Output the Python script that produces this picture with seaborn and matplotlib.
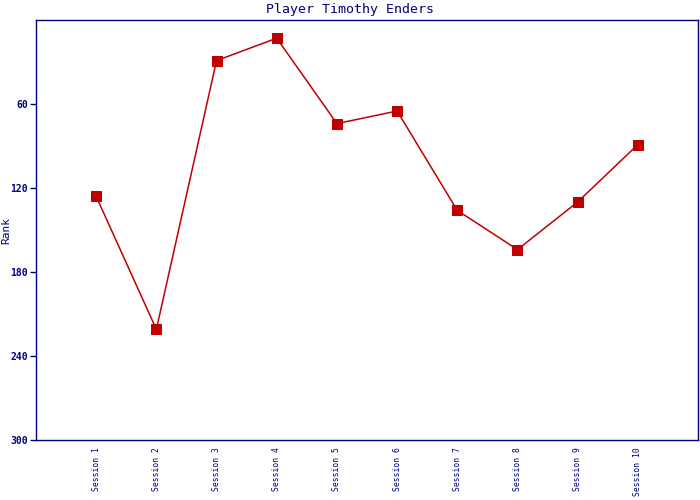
import pandas as pd
import numpy as np
import matplotlib
matplotlib.use('Agg')
import matplotlib.pyplot as plt
import seaborn as sb

sessions = ['Session 1', 'Session 2', 'Session 3', 'Session 4', 'Session 5',
            'Session 6', 'Session 7', 'Session 8', 'Session 9', 'Session 10']
ranks = [126, 221, 29, 13, 74, 65, 136, 164, 130, 89]
rank_ticks = [60, 120, 180, 240, 300]

df = pd.DataFrame({'session': sessions, 'rank': ranks})

sb.set_style('white')
plt.rcParams['font.family'] = ['DejaVu Sans Mono']
navy = '#000080'
red = '#C00000'

fig = plt.figure(figsize=(7, 5), dpi=100)
ax = fig.add_axes([36/700, 0.12, 662/700, 0.84])
sb.lineplot(data=df, x='session', y='rank', sort=False, ax=ax, color=red,
            linewidth=1.1, marker='s', markersize=7, markeredgecolor=red)

ax.set_xlim(-1, 10)
ax.set_ylim(300, 0)
ax.set_yticks(rank_ticks)
ax.set_yticklabels([str(t) for t in rank_ticks], fontsize=7, color=navy, fontweight='bold')
ax.tick_params(axis='y', direction='out', length=4, width=1, color=navy, left=True, pad=2)
ax.tick_params(axis='x', length=0, pad=5)
for lab in ax.get_xticklabels():
    lab.set_rotation(90)
    lab.set_fontsize(5.8)
    lab.set_color(navy)
    lab.set_va('top')
for s in ax.spines.values():
    s.set_color(navy)
    s.set_linewidth(1)
ax.set_xlabel('')
ax.set_ylabel('Rank', fontsize=8, color=navy, labelpad=2)
ax.yaxis.set_label_coords(-0.037, 0.5)
fig.suptitle('Player Timothy Enders', fontsize=9.5, color=navy, y=0.995)

fig.savefig('out.png', dpi=100)
